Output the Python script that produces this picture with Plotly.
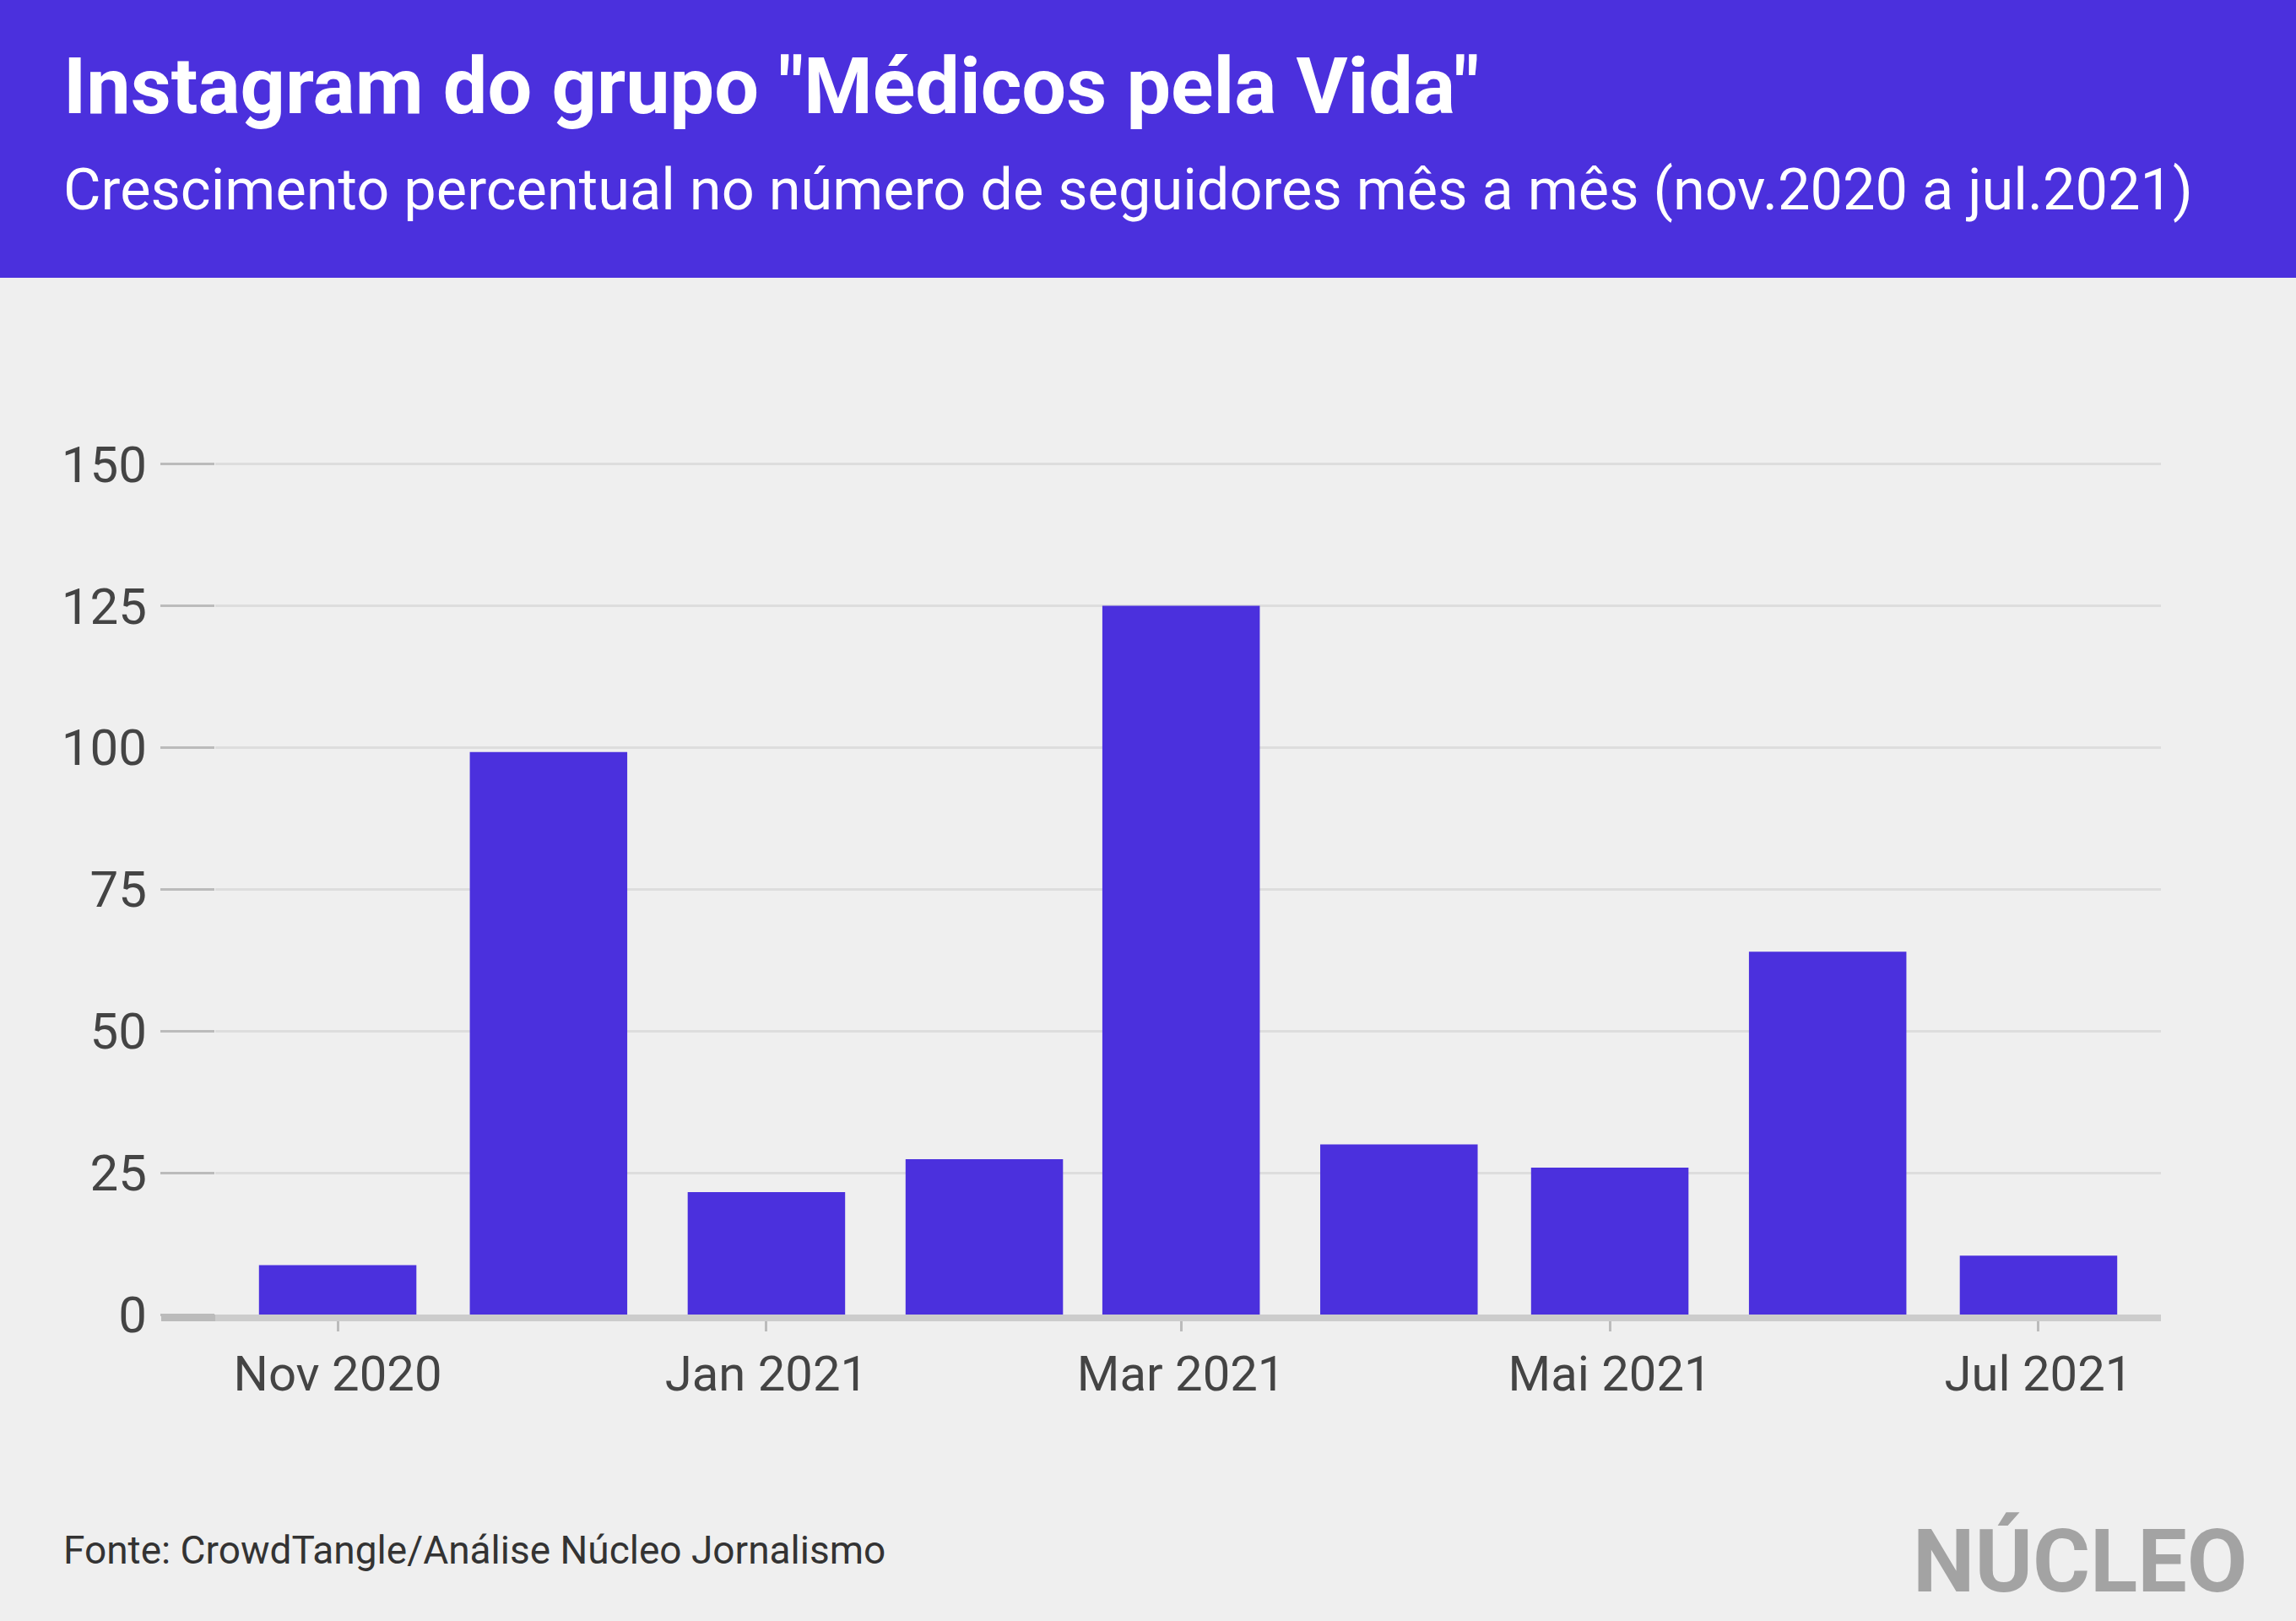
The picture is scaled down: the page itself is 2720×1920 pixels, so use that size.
import plotly.graph_objects as go

# ---- data ----
months = ["2020-11-01", "2020-12-01", "2021-01-01", "2021-02-01", "2021-03-01",
          "2021-04-01", "2021-05-01", "2021-06-01", "2021-07-01"]
growth_pct = [8.7, 99.2, 21.6, 27.4, 125.0, 30.0, 25.9, 64.0, 10.4]
tick_dates = ["2020-11-01", "2021-01-01", "2021-03-01", "2021-05-01", "2021-07-01"]
tick_labels = ["Nov 2020", "Jan 2021", "Mar 2021", "Mai 2021", "Jul 2021"]
y_ticks = [0, 25, 50, 75, 100, 125, 150]

title = 'Instagram do grupo "Médicos pela Vida"'
subtitle = "Crescimento percentual no número de seguidores mês a mês (nov.2020 a jul.2021)"
source = "Fonte: CrowdTangle/Análise Núcleo Jornalismo"
logo = "NÚCLEO"

# ---- layout geometry (pixels) ----
W, H = 2720, 1920
PL, PR, PT, PB = 255, 2560, 543, 1557
PW, PH = PR - PL, PB - PT

PURPLE = "#4b30dd"
BG = "#efefef"
FONT = "Roboto, Inter, sans-serif"


def px(x):
    return (x - PL) / PW


def py(y):
    return (PB - y) / PH


fig = go.Figure()
fig.add_trace(go.Bar(x=months, y=growth_pct, marker=dict(color=PURPLE, line=dict(width=0)),
                     hoverinfo="x+y"))

shapes = [
    # header band
    dict(type="rect", xref="paper", yref="paper", x0=px(-5), x1=px(W + 5), y0=py(329), y1=py(-5),
         fillcolor=PURPLE, line=dict(width=0), layer="below"),
    # darker left stub of the baseline
    dict(type="line", xref="paper", yref="paper", x0=px(191), x1=px(255), y0=py(1561), y1=py(1561),
         line=dict(color="#bbbbbb", width=8), layer="above"),
]

annotations = [
    dict(text="<b>" + title + "</b>", xref="paper", yref="paper", x=px(73), y=py(102),
         xanchor="left", yanchor="middle", showarrow=False,
         font=dict(family=FONT, size=93.5, color="white")),
    dict(text=subtitle, xref="paper", yref="paper", x=px(73), y=py(224),
         xanchor="left", yanchor="middle", showarrow=False,
         font=dict(family=FONT, size=68.5, color="white")),
    dict(text=source, xref="paper", yref="paper", x=px(73), y=py(1836),
         xanchor="left", yanchor="middle", showarrow=False,
         font=dict(family=FONT, size=46, color="#333333")),
    dict(text="<b>" + logo + "</b>", xref="paper", yref="paper", x=px(2664), y=py(1849),
         xanchor="right", yanchor="middle", showarrow=False,
         font=dict(family=FONT, size=104, color="#a3a3a3")),
]

fig.update_layout(
    width=W, height=H,
    margin=dict(l=PL, r=W - PR, t=PT, b=H - PB, pad=0),
    paper_bgcolor=BG, plot_bgcolor=BG,
    showlegend=False,
    bargap=0.2,
    shapes=shapes,
    annotations=annotations,
    font=dict(family=FONT, color="#444444"),
    xaxis=dict(
        type="date",
        range=["2020-10-14 13:55", "2021-07-18 10:05"],
        tickmode="array", tickvals=tick_dates, ticktext=tick_labels,
        ticks="outside", ticklen=12, tickwidth=3, tickcolor="#bbbbbb",
        showline=True, linewidth=8, linecolor="#cccccc",
        showgrid=False, zeroline=False,
        tickfont=dict(family=FONT, size=58, color="#444444"),
    ),
    yaxis=dict(
        range=[0, 151],
        tickmode="array", tickvals=y_ticks,
        ticks="outside", ticklen=64, tickwidth=3, tickcolor="#bbbbbb",
        showgrid=True, gridwidth=3, gridcolor="#dddddd",
        zeroline=False, showline=False,
        ticklabelstandoff=4,
        tickfont=dict(family=FONT, size=60, color="#444444"),
    ),
)

fig.write_html("out.html")
